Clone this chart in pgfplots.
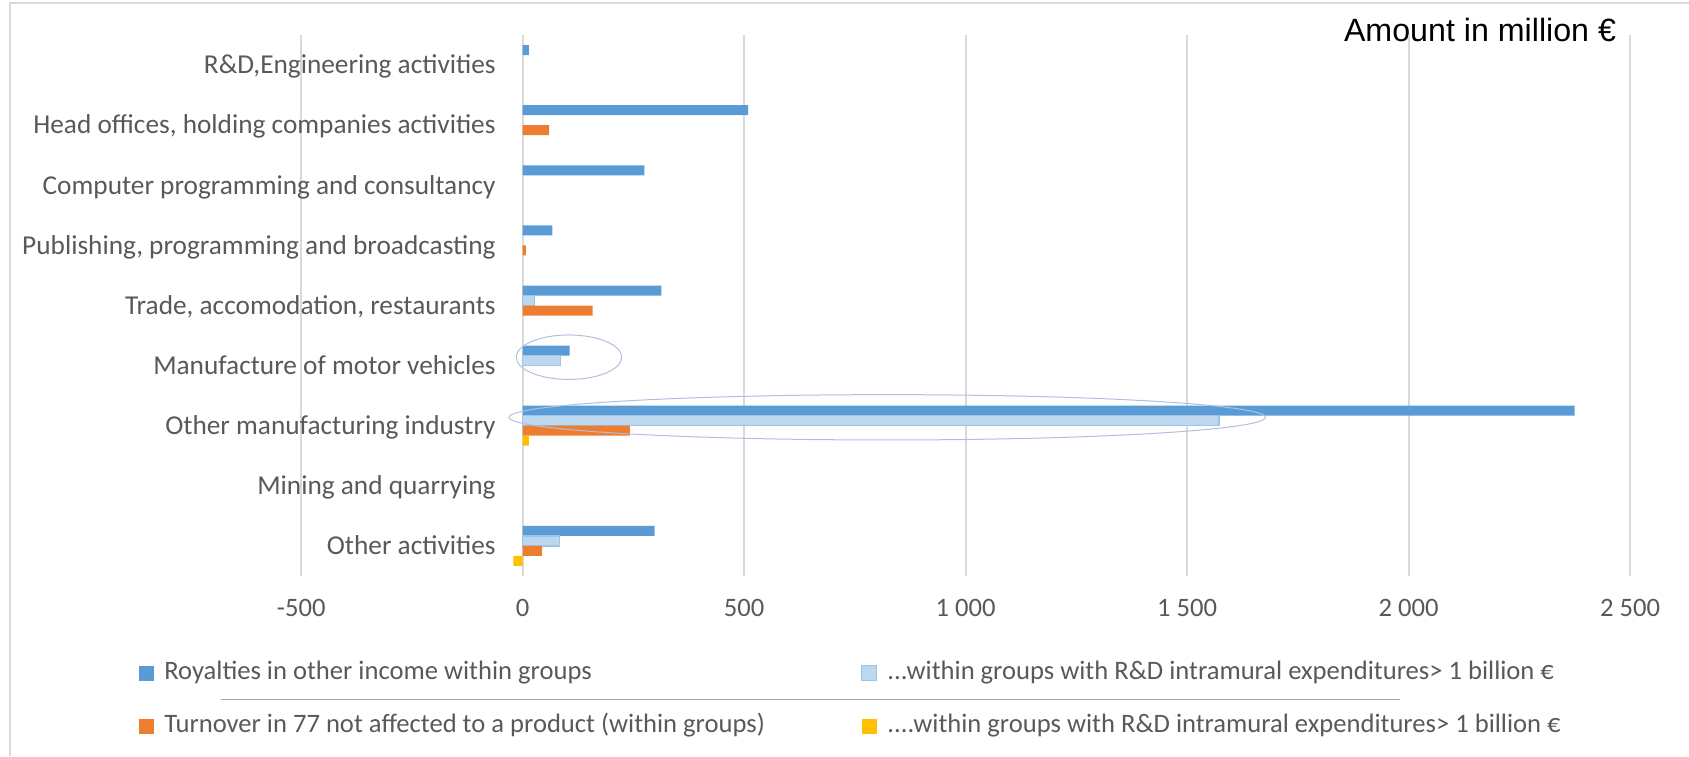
\documentclass[border=0pt]{standalone}
\usepackage{fontspec}
\setmainfont{Carlito}
\newfontfamily\arialfont{Liberation Sans}
\usepackage{pgfplots}
\pgfplotsset{compat=1.18}
\definecolor{cblue}{HTML}{5B9BD5}
\definecolor{clight}{HTML}{BDD7EE}
\definecolor{clightb}{HTML}{9DC3E6}
\definecolor{corange}{HTML}{ED7D31}
\definecolor{cyellow}{HTML}{FFC000}
\definecolor{ctext}{HTML}{595959}
\definecolor{cgrid}{HTML}{D9D9D9}
\definecolor{cell}{HTML}{AFC0DE}
\begin{document}
\begin{tikzpicture}
\path[use as bounding box] (0,0) rectangle (844.5pt,378pt);
\draw[cgrid, line width=1pt] (5pt,0) -- (5pt,376.35pt) -- (844.5pt,376.35pt);
\draw[gray!70, line width=0.5pt] (110.5pt,28.5pt) -- (700pt,28.5pt);
\node[anchor=base, font=\arialfont\fontsize{16.1}{19}\selectfont] at (740pt,357.3pt) {Amount in million €};
\begin{axis}[
  at={(150.6pt,90pt)}, anchor=south west,
  scale only axis, width=664.4pt, height=270.5pt,
  xbar, bar width=5pt,
  xmin=-500, xmax=2500, ymin=-0.5, ymax=8.5,
  xtick={-500,0,500,1000,1500,2000,2500},
  ytick={0,1,2,3,4,5,6,7,8},
  yticklabels={Other activities, Mining and quarrying, Other manufacturing industry, Manufacture of motor vehicles, {Trade, accomodation, restaurants}, {Publishing, programming and broadcasting}, Computer programming and consultancy, {Head offices, holding companies activities}, {R\&D,Engineering activities}},
  axis line style={draw=none},
  tick style={draw=none},
  major tick length=0pt,
  xmajorgrids, ymajorgrids=false,
  major grid style={cgrid, line width=1pt},
  ticklabel style={font=\fontsize{13.3}{16}\selectfont, text=ctext},
  xticklabel style={anchor=center, yshift=-16pt, /pgf/number format/1000 sep={\ }, /pgf/number format/assume math mode=true},
  yticklabel style={anchor=east, inner xsep=0pt, xshift=97.4pt, text height=10pt, text depth=1.2pt, font=\fontsize{13.65}{16}\selectfont},
  legend columns=2,
  legend cell align=left,
  legend image code/.code={\path[#1] (0pt,-3.75pt) rectangle (7.5pt,3.75pt);},
  legend style={at={(axis description cs:-0.1221,-0.1571)}, anchor=north west, draw=none, fill=none, inner sep=0pt, outer sep=0pt, row sep=14.5pt, font=\fontsize{13.3}{16}\selectfont, text=ctext, nodes={inner sep=0pt, text height=9pt, text depth=3pt, anchor=west}, /tikz/every odd column/.append style={column sep=5.15pt}},
]
\addplot[fill=cblue, draw=none, bar shift=7.5pt] coordinates {(298,0) (2375,2) (106,3) (313,4) (67,5) (275,6) (509,7) (14,8)};
\addlegendentry{\makebox[348.35pt][l]{Royalties in other income within groups}}
\addplot[fill=clight, draw=clightb, line width=0.6pt, bar shift=2.5pt] coordinates {(83,0) (1572,2) (86,3) (26,4)};
\addlegendentry{.{}.{}.within groups with R\&D intramural expenditures> 1 billion €}
\addplot[fill=corange, draw=none, bar shift=-2.5pt] coordinates {(44,0) (242,2) (158,4) (7,5) (60,7)};
\addlegendentry{\makebox[348.35pt][l]{Turnover in 77 not affected to a product (within groups)}}
\addplot[fill=cyellow, draw=none, bar shift=-7.5pt] coordinates {(-21,0) (14,2)};
\addlegendentry{.{}.{}.{}.within groups with R\&D intramural expenditures> 1 billion €}
\draw[cell, line width=0.5pt] (axis cs:104.5,3.14) ellipse [x radius=119, y radius=0.37];
\draw[cell, line width=0.5pt] (axis cs:823,2.14) ellipse [x radius=854, y radius=0.377];
\end{axis}
\end{tikzpicture}
\end{document}
